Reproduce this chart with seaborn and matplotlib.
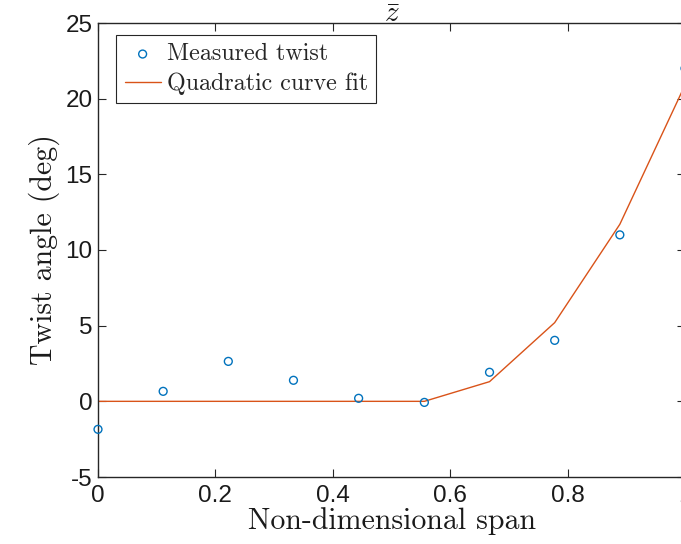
import matplotlib
matplotlib.use("Agg")
import matplotlib.pyplot as plt
import seaborn as sns
import numpy as np
import pandas as pd

span = [0.0, 0.111, 0.222, 0.333, 0.444, 0.556, 0.667, 0.778, 0.889, 1.0]
measured = [-1.85, 0.66, 2.64, 1.39, 0.2, -0.07, 1.92, 4.03, 11.0, 22.0]
fit = [0.0, 0.0, 0.0, 0.0, 0.0, 0.0, 1.3, 5.2, 11.7, 20.9]

df = pd.DataFrame({"span": span, "measured": measured, "fit": fit})

sns.set_theme(style="white")
plt.rcParams["font.family"] = ["Liberation Sans", "DejaVu Sans"]
plt.rcParams["mathtext.fontset"] = "cm"

fig = plt.figure(figsize=(6.81, 5.44), dpi=100)
ax = fig.add_axes([98/681, 1 - 477/544, (685-98)/681, (477-23)/544])

sns.scatterplot(data=df, x="span", y="measured", ax=ax, marker="o", s=32,
                facecolors="none", edgecolor="#0072BD", linewidth=1.0,
                label="Measured twist", clip_on=False, zorder=3)
sns.lineplot(data=df, x="span", y="fit", ax=ax, color="#D95319", linewidth=1.0,
             label="Quadratic curve fit", zorder=2)

ax.set_xlim(0, 1)
ax.set_ylim(-5, 25)
ax.set_xticks([0, 0.2, 0.4, 0.6, 0.8, 1.0])
ax.set_xticklabels(["0", "0.2", "0.4", "0.6", "0.8", "1"])
ax.set_yticks([-5, 0, 5, 10, 15, 20, 25])
ax.set_yticklabels(["-5", "0", "5", "10", "15", "20", "25"])

for s in ax.spines.values():
    s.set_color("#262626")
    s.set_linewidth(1.0)
ax.tick_params(direction="in", length=6, width=0.8, colors="#262626",
               labelsize=17.5, top=True, right=True, left=True, bottom=True,
               pad=4)
ax.tick_params(axis="x", pad=6)
for lab in ax.get_xticklabels() + ax.get_yticklabels():
    lab.set_color("#1a1a1a")

ax.set_xlabel("Non-dimensional span", fontname="cmr10", fontsize=21.5,
              color="#1a1a1a", labelpad=0)
ax.set_ylabel("Twist angle (deg)", fontname="cmr10", fontsize=21.5,
              color="#1a1a1a", labelpad=4)
ax.set_title(r"$\bar{z}$", fontsize=21, pad=1, color="#1a1a1a")

leg = ax.legend(loc="upper left", bbox_to_anchor=(0.031, 0.974),
                prop={"family": "cmr10", "size": 17.3}, frameon=True,
                fancybox=False, edgecolor="#262626", framealpha=1,
                borderpad=0.35, handlelength=1.5, handletextpad=0.25,
                labelspacing=0.3, borderaxespad=0)
leg.get_frame().set_linewidth(0.8)

fig.savefig("out.png", dpi=100)
